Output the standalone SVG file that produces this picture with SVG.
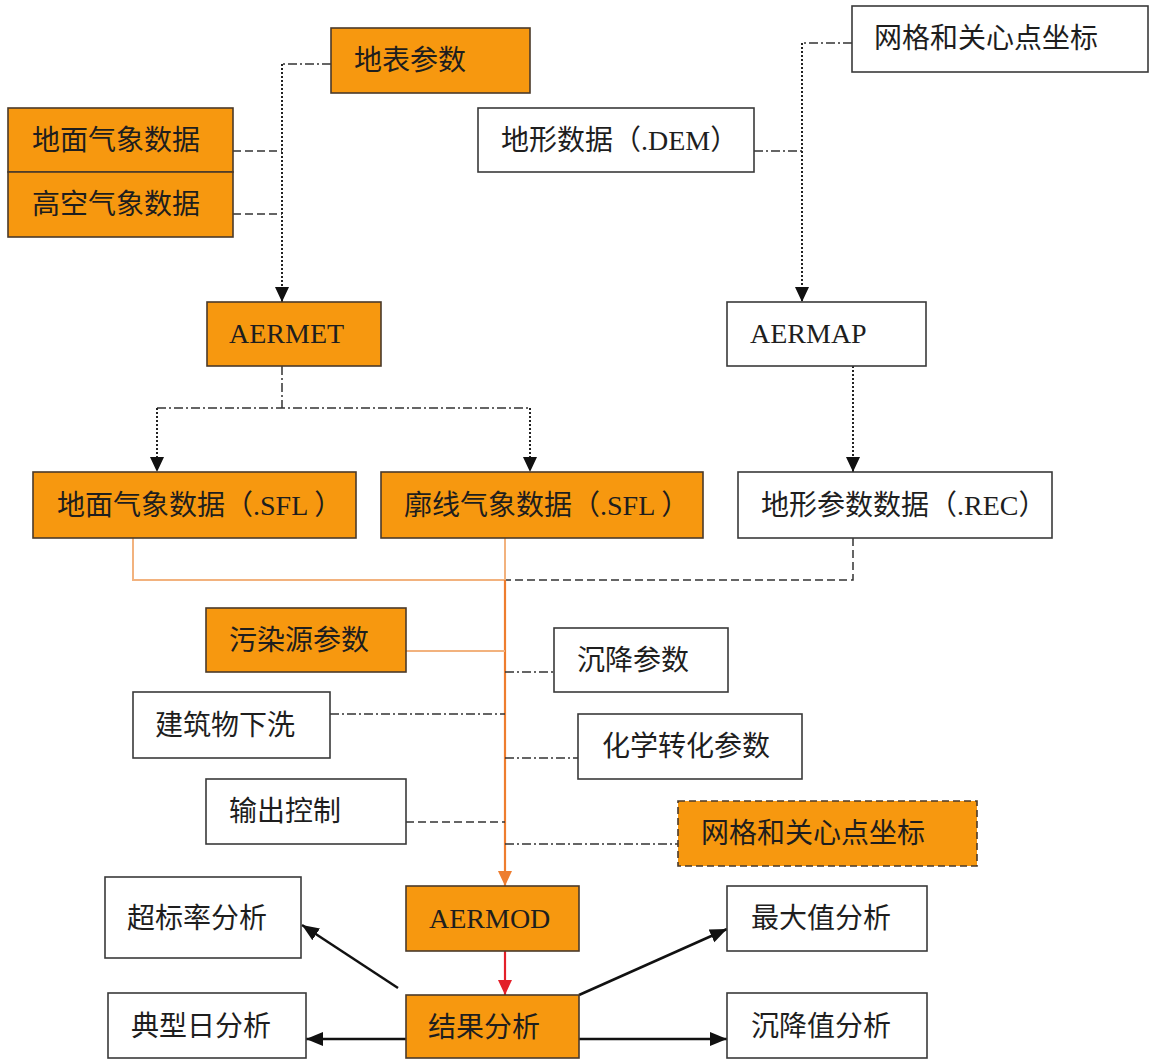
<svg xmlns="http://www.w3.org/2000/svg" width="1150" height="1061" viewBox="0 0 1150 1061">
<defs>
<style>
.o{fill:#F7980F;stroke:#4a3a2a;stroke-width:1.6}
.w{fill:#fff;stroke:#3a3a3a;stroke-width:1.6}
.od{fill:#F7980F;stroke:#4a3a2a;stroke-width:1.6;stroke-dasharray:7 4}
text{font-family:"Liberation Serif","Noto Sans CJK SC",serif;font-size:28px;fill:#1e1e1e}
.dot{fill:none;stroke:#222;stroke-width:2;stroke-dasharray:2 2}
.dd{fill:none;stroke:#333;stroke-width:1.5;stroke-dasharray:9 3 2 3}
.da{fill:none;stroke:#333;stroke-width:1.5;stroke-dasharray:8 4}
.lo{fill:none;stroke:#F2B27E;stroke-width:2}
.mo{fill:none;stroke:#EE7D2F;stroke-width:2.2}
.bk{fill:none;stroke:#111;stroke-width:2.5}
</style>
<marker id="ab" markerUnits="userSpaceOnUse" markerWidth="15" markerHeight="16" refX="15" refY="7" orient="auto" viewBox="0 0 15 14"><path d="M0,0 L15,7 L0,14 z" fill="#111"/></marker>
<marker id="ao" markerUnits="userSpaceOnUse" markerWidth="15" markerHeight="16" refX="15" refY="7" orient="auto" viewBox="0 0 15 14"><path d="M0,0 L15,7 L0,14 z" fill="#EE7D2F"/></marker>
<marker id="ar" markerUnits="userSpaceOnUse" markerWidth="15" markerHeight="16" refX="15" refY="7" orient="auto" viewBox="0 0 15 14"><path d="M0,0 L15,7 L0,14 z" fill="#E3202A"/></marker>
<marker id="ak" markerUnits="userSpaceOnUse" markerWidth="17" markerHeight="16" refX="17" refY="7" orient="auto" viewBox="0 0 17 14"><path d="M0,0 L17,7 L0,14 z" fill="#111"/></marker>
</defs>

<g id="connectors">
<path class="dd" d="M331,64 H282"/>
<path class="da" d="M233,151 H282"/>
<path class="da" d="M233,214 H282"/>
<path class="dot" d="M282,64 V302" marker-end="url(#ab)"/>
<path class="dd" d="M852,43 H802"/>
<path class="dd" d="M754,151 H802"/>
<path class="dot" d="M802,43 V302" marker-end="url(#ab)"/>
<path class="dd" d="M282,366 V408 M157,408 H530"/>
<path class="dot" d="M157,408 V472" marker-end="url(#ab)"/>
<path class="dot" d="M530,408 V472" marker-end="url(#ab)"/>
<path class="dot" d="M853,366 V472" marker-end="url(#ab)"/>
<path class="da" d="M853,538 V580 H506"/>
<path class="lo" d="M133,538 V580 H505"/>
<path class="lo" d="M505,538 V580"/>
<path class="mo" d="M505,580 V886" marker-end="url(#ao)"/>
<path class="lo" d="M406,651 H505"/>
<path class="dd" d="M505,672 H554"/>
<path class="dd" d="M330,714 H505"/>
<path class="dd" d="M505,758 H578"/>
<path class="da" d="M406,822 H505"/>
<path class="dd" d="M505,844 H678"/>
<path d="M505,951 V995" fill="none" stroke="#E3202A" stroke-width="2.2" marker-end="url(#ar)"/>
<path class="bk" d="M398,988 L302,925" marker-end="url(#ak)"/>
<path class="bk" d="M406,1039 H306" marker-end="url(#ak)"/>
<path class="bk" d="M579,995 L727,929" marker-end="url(#ak)"/>
<path class="bk" d="M579,1039 H727" marker-end="url(#ak)"/>
</g>

<g id="n-dibiao"><rect class="o" x="331" y="28" width="199" height="65"/><text x="354" y="70">地表参数</text></g>
<g id="n-dimian"><rect class="o" x="8" y="108" width="225" height="64"/><text x="32" y="150">地面气象数据</text></g>
<g id="n-gaokong"><rect class="o" x="8" y="172" width="225" height="65"/><text x="32" y="214">高空气象数据</text></g>
<g id="n-wangge1"><rect class="w" x="852" y="6" width="296" height="66"/><text x="874" y="48">网格和关心点坐标</text></g>
<g id="n-dem"><rect class="w" x="478" y="108" width="276" height="64"/><text x="501" y="150">地形数据（.DEM）</text></g>
<g id="n-aermet"><rect class="o" x="207" y="302" width="174" height="64"/><text x="229" y="343">AERMET</text></g>
<g id="n-aermap"><rect class="w" x="727" y="302" width="199" height="64"/><text x="750" y="343">AERMAP</text></g>
<g id="n-sfl1"><rect class="o" x="33" y="472" width="323" height="66"/><text x="57" y="515">地面气象数据（.SFL ）</text></g>
<g id="n-sfl2"><rect class="o" x="381" y="472" width="322" height="66"/><text x="404" y="515">廓线气象数据（.SFL ）</text></g>
<g id="n-rec"><rect class="w" x="738" y="472" width="314" height="66"/><text x="761" y="515">地形参数数据（.REC）</text></g>
<g id="n-wuran"><rect class="o" x="206" y="608" width="200" height="64"/><text x="229" y="650">污染源参数</text></g>
<g id="n-chenjiang"><rect class="w" x="554" y="628" width="174" height="64"/><text x="577" y="670">沉降参数</text></g>
<g id="n-jianzhu"><rect class="w" x="133" y="692" width="197" height="66"/><text x="155" y="735">建筑物下洗</text></g>
<g id="n-huaxue"><rect class="w" x="578" y="714" width="224" height="65"/><text x="602" y="756">化学转化参数</text></g>
<g id="n-shuchu"><rect class="w" x="206" y="779" width="200" height="65"/><text x="229" y="821">输出控制</text></g>
<g id="n-wangge2"><rect class="od" x="678" y="801" width="299" height="65"/><text x="701" y="843">网格和关心点坐标</text></g>
<g id="n-aermod"><rect class="o" x="406" y="886" width="173" height="65"/><text x="429" y="928">AERMOD</text></g>
<g id="n-chaobiao"><rect class="w" x="105" y="877" width="196" height="81"/><text x="127" y="928">超标率分析</text></g>
<g id="n-zuida"><rect class="w" x="727" y="886" width="200" height="65"/><text x="751" y="928">最大值分析</text></g>
<g id="n-jieguo"><rect class="o" x="406" y="995" width="173" height="63"/><text x="428" y="1037">结果分析</text></g>
<g id="n-dianxing"><rect class="w" x="108" y="993" width="198" height="65"/><text x="131" y="1036">典型日分析</text></g>
<g id="n-chenjiangzhi"><rect class="w" x="727" y="993" width="200" height="65"/><text x="751" y="1036">沉降值分析</text></g>
</svg>
